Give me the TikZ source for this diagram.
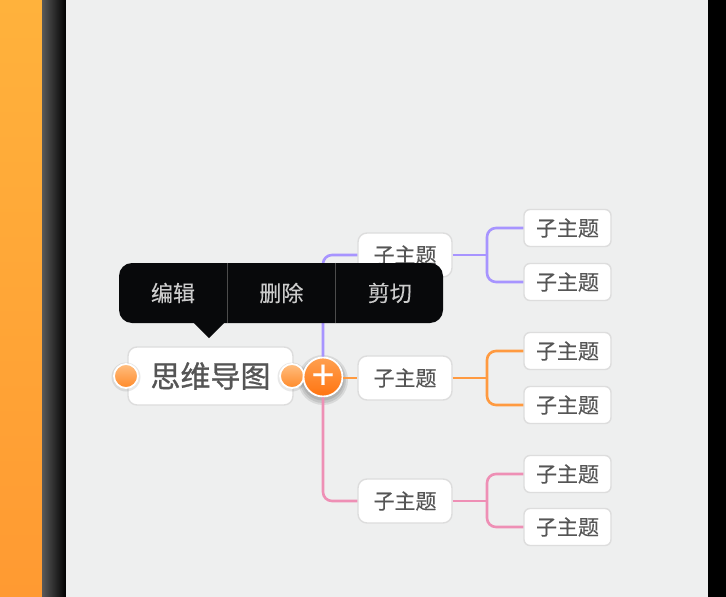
\documentclass[tikz,border=0pt]{standalone}
\usepackage{fontspec}
\setmainfont{Noto Sans CJK SC}
\newfontfamily\thickcjk{Noto Sans CJK SC}[FakeBold=0.9]
\newfontfamily\semicjk{Noto Sans CJK SC}[FakeBold=0.3]
\usepackage{tikz}
\usetikzlibrary{positioning}
\definecolor{canvasgray}{HTML}{EEEFEF}
\definecolor{boxedge}{HTML}{DDDDDD}
\definecolor{inktext}{HTML}{555555}
\definecolor{lilac}{HTML}{A794FF}
\definecolor{tangerine}{HTML}{FF9A40}
\definecolor{rosepink}{HTML}{EE8FB5}
\definecolor{menublack}{HTML}{08090B}
\definecolor{bandtop}{HTML}{FFB23C}
\definecolor{bandlow}{HTML}{FF9A32}
\definecolor{dotlight}{HTML}{FFBE80}
\definecolor{dotdeep}{HTML}{FF8A2A}
\definecolor{pluslight}{HTML}{FFA050}
\definecolor{plusdeep}{HTML}{FF7410}

\begin{document}
\begin{tikzpicture}[
  x=1pt, y=-1pt,
  rootbox/.style={draw=boxedge, line width=1.4pt, fill=white, rounded corners=9pt, minimum width=165pt, minimum height=58pt, inner sep=0pt, text=inktext, font=\thickcjk\fontsize{30}{33}\selectfont},
  topicbox/.style={draw=boxedge, line width=1.4pt, fill=white, rounded corners=9pt, minimum width=94pt, minimum height=44pt, inner sep=0pt, text=inktext, font=\semicjk\fontsize{21}{24}\selectfont},
  subbox/.style={draw=boxedge, line width=1.4pt, fill=white, rounded corners=6pt, minimum width=87pt, minimum height=37pt, inner sep=0pt, text=inktext, font=\semicjk\fontsize{21}{24}\selectfont},
  dot/.style={circle, draw=white, line width=1.8pt, minimum size=24pt, inner sep=0pt, top color=dotlight, bottom color=dotdeep},
  plusbtn/.style={circle, draw=white, line width=1.8pt, minimum size=39pt, inner sep=0pt, top color=pluslight, bottom color=plusdeep, text=white, font=\semicjk\fontsize{40}{40}\selectfont},
  halo/.style={fill=black, opacity=0.09},
  popup/.style={fill=menublack, rounded corners=13pt, minimum width=324pt, minimum height=60pt, inner sep=0pt},
  popitem/.style={minimum width=108pt, minimum height=60pt, inner sep=0pt, text=white!80!black, font=\semicjk\fontsize{22}{25}\selectfont},
  branch/.style={line width=2.6pt, rounded corners=9pt}
]
\useasboundingbox (0,0) rectangle (726,597);

% ======================================================
% =============== BACKGROUND ===========================
% ======================================================
\fill[top color=bandtop, bottom color=bandlow] (0,0) rectangle (42,597);
\fill[left color=black!65, right color=black] (42,0) rectangle (66,597);
\fill[canvasgray] (66,0) rectangle (708,597);
\fill[black] (708,0) rectangle (726,597);

% ======================================================
% =============== NODES ================================
% ======================================================
\node[rootbox] (root) at (210.5,376) {思维导图};

% soft shadows
\fill[halo] (126,377) circle (14.5);
\fill[halo] (292,377) circle (14.5);
\fill[halo] (323,380) circle (25);
\fill[halo] (323,380) circle (23);
\fill[halo] (323,379) circle (21.5);

\node[dot] (dotL) at (126,376) {};
\node[dot] (dotR) at (292,376) {};
\node[plusbtn] (plus) at (323,377) {+};

\node[topicbox] (topicA) at (405,255) {子主题};
\node[topicbox] (topicB) at (405,378) {子主题};
\node[topicbox] (topicC) at (405,501) {子主题};

\node[subbox] (subA1) at (567.5,228) {子主题};
\node[subbox] (subA2) at (567.5,282) {子主题};
\node[subbox] (subB1) at (567.5,351) {子主题};
\node[subbox] (subB2) at (567.5,405) {子主题};
\node[subbox] (subC1) at (567.5,474) {子主题};
\node[subbox] (subC2) at (567.5,527) {子主题};

\coordinate (forkA) at (487,255);
\coordinate (forkB) at (487,378);
\coordinate (forkC) at (487,501);

% ======================================================
% =============== CONNECTORS ===========================
% ======================================================
\draw[branch, lilac] (plus.north) |- (topicA.west);
\draw[branch, tangerine] (plus.east |- topicB.west) -- (topicB.west);
\draw[branch, rosepink] (plus.south) |- (topicC.west);

\draw[branch, lilac] (topicA.east) -- (forkA);
\draw[branch, lilac] (subA1.west) -| (forkA) |- (subA2.west);
\draw[branch, tangerine] (topicB.east) -- (forkB);
\draw[branch, tangerine] (subB1.west) -| (forkB) |- (subB2.west);
\draw[branch, rosepink] (topicC.east) -- (forkC);
\draw[branch, rosepink] (subC1.west) -| (forkC) |- (subC2.west);

% ======================================================
% =============== POPUP ================================
% ======================================================
\node[popup] (menu) at (281,293) {};
\fill[menublack] (193,322) -- (209,338) -- (225,322) -- cycle;
\node[popitem] (edit) at (173,293) {编辑};
\node[popitem, right=0pt of edit] (remove) {删除};
\node[popitem, right=0pt of remove] (cut) {剪切};
\draw[black!70] (edit.north east) -- (edit.south east);
\draw[black!70] (remove.north east) -- (remove.south east);

\end{tikzpicture}
\end{document}
